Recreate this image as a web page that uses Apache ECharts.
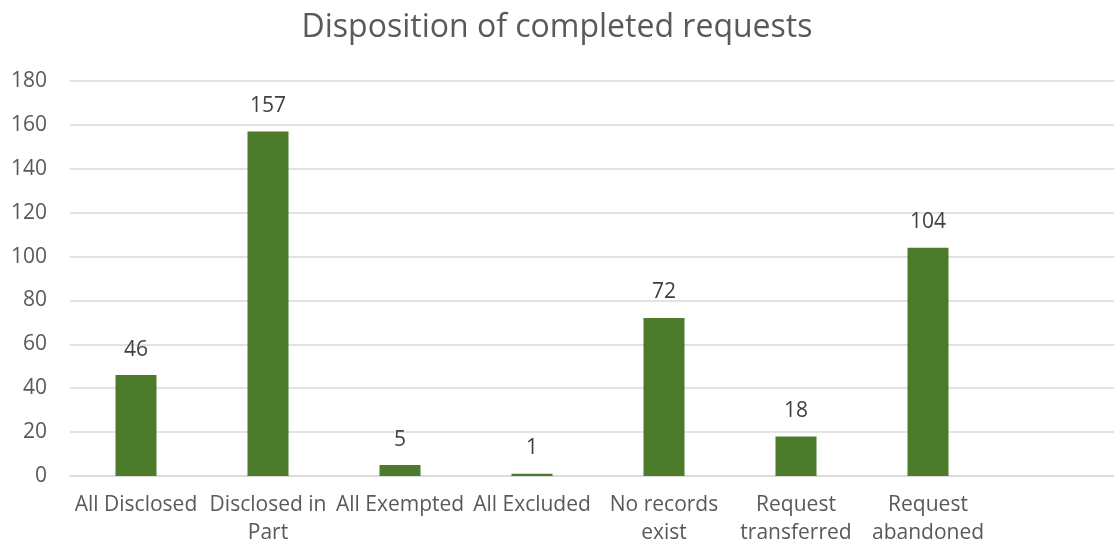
<!DOCTYPE html>
<html>
<head>
<meta charset="utf-8">
<script src="https://cdn.jsdelivr.net/npm/echarts@6/dist/echarts.min.js"></script>
<style>
  html, body { margin: 0; padding: 0; background: #ffffff; }
  #chart { width: 1114px; height: 546px; }
</style>
</head>
<body>
<div id="chart"></div>
<script>
// Request dispositions; the trailing empty slot keeps the category spacing of the axis.
const categories = [
  'All Disclosed',
  'Disclosed in\nPart',
  'All Exempted',
  'All Excluded',
  'No records\nexist',
  'Request\ntransferred',
  'Request\nabandoned',
  ''
];
const counts = [46, 157, 5, 1, 72, 18, 104, null];
const yTicks = { min: 0, max: 180, step: 20 };

const fontFamily = '"Open Sans", Lato, "Liberation Sans", sans-serif';

const chart = echarts.init(document.getElementById('chart'), null, { renderer: 'canvas' });
chart.setOption({
  animation: false,
  backgroundColor: '#ffffff',
  title: {
    text: 'Disposition of completed requests',
    left: 'center',
    top: 7,
    textStyle: { fontFamily, fontSize: 32, fontWeight: 'normal', color: '#595959' }
  },
  // the plot runs past the right edge, so the grid is not squeezed to fit its labels
  grid: { left: 70, top: 81, width: 1056, bottom: 70, containLabel: false, outerBoundsMode: 'none' },
  xAxis: {
    type: 'category',
    data: categories,
    axisLine: { show: true, lineStyle: { color: '#d9d9d9', width: 1.5 } },
    axisTick: { show: false },
    axisLabel: {
      interval: 0,
      margin: 15,
      fontFamily,
      fontSize: 21,
      lineHeight: 28,
      color: '#595959'
    }
  },
  yAxis: {
    type: 'value',
    min: yTicks.min,
    max: yTicks.max,
    interval: yTicks.step,
    axisLine: { show: false },
    axisTick: { show: false },
    splitLine: { lineStyle: { color: '#d9d9d9', width: 1.5 } },
    axisLabel: { margin: 23, fontFamily, fontSize: 21, color: '#595959' }
  },
  series: [{
    type: 'bar',
    data: counts,
    barWidth: 41,
    itemStyle: { color: '#4b7b2b' },
    label: {
      show: true,
      position: 'top',
      distance: 15,
      fontFamily,
      fontSize: 21,
      color: '#404040'
    }
  }]
});
</script>
</body>
</html>
